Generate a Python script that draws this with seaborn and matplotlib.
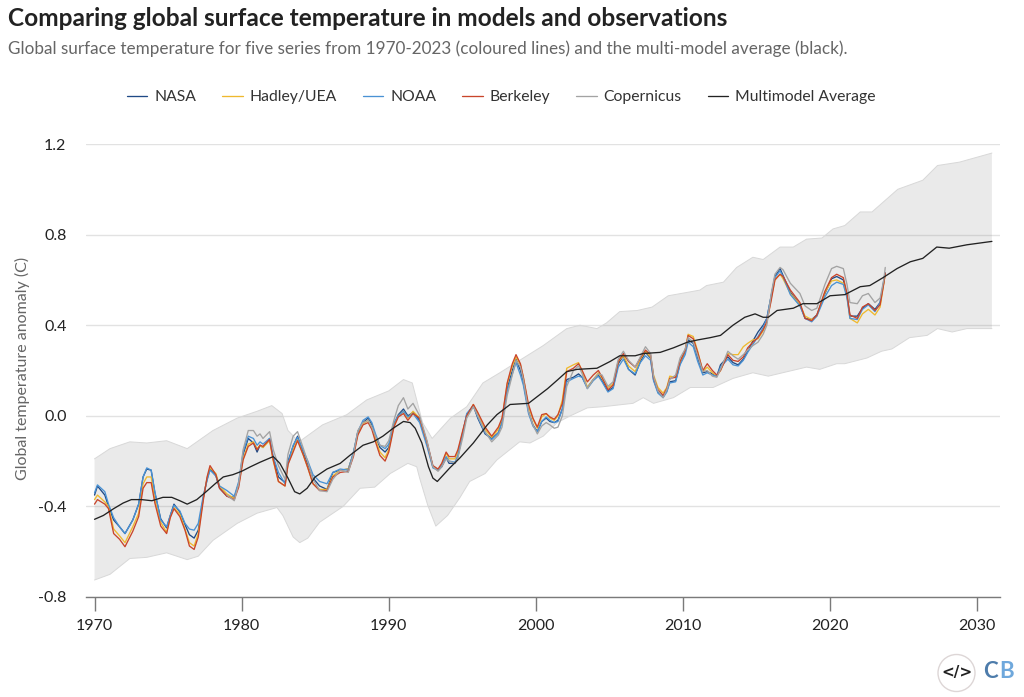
import pandas as pd
import matplotlib
matplotlib.use('Agg')
import matplotlib.pyplot as plt
from matplotlib.patches import Ellipse
import seaborn as sns

obs_years = [1970.0, 1970.2, 1970.7, 1970.95, 1971.3, 1971.7, 1972.07, 1972.6, 1973.0, 1973.3, 1973.55, 1973.85,
             1974.1, 1974.5, 1974.9, 1975.15, 1975.4, 1975.8, 1976.15, 1976.45, 1976.77, 1977.05, 1977.4, 1977.65,
             1977.85, 1978.25, 1978.5, 1979.0, 1979.5, 1979.8, 1980.1, 1980.45, 1980.8, 1981.05, 1981.25, 1981.45,
             1981.9, 1982.15, 1982.5, 1982.95, 1983.15, 1983.5, 1983.8, 1984.2, 1984.5, 1984.85, 1985.3, 1985.8,
             1986.2, 1986.7, 1987.25, 1987.6, 1987.9, 1988.25, 1988.6, 1988.85, 1989.1, 1989.4, 1989.75, 1990.0,
             1990.35, 1990.65, 1991.0, 1991.3, 1991.65, 1992.1, 1992.6, 1993.0, 1993.35, 1993.6, 1993.9, 1994.1,
             1994.5, 1994.7, 1995.05, 1995.3, 1995.75, 1996.05, 1996.55, 1997.0, 1997.45, 1997.7, 1998.05, 1998.4,
             1998.65, 1998.95, 1999.15, 1999.5, 1999.8, 2000.1, 2000.4, 2000.7, 2000.95, 2001.25, 2001.5, 2001.8,
             2002.1, 2002.55, 2002.9, 2003.15, 2003.5, 2003.9, 2004.25, 2004.5, 2004.9, 2005.25, 2005.6, 2005.95,
             2006.3, 2006.75, 2007.1, 2007.45, 2007.8, 2008.0, 2008.3, 2008.65, 2008.9, 2009.1, 2009.5, 2009.8,
             2010.15, 2010.35, 2010.7, 2011.0, 2011.35, 2011.65, 2012.0, 2012.3, 2012.55, 2013.05, 2013.4, 2013.75,
             2014.1, 2014.4, 2014.75, 2015.1, 2015.45, 2015.7, 2016.0, 2016.25, 2016.6, 2016.8, 2017.3, 2017.95,
             2018.3, 2018.75, 2019.1, 2019.65, 2020.1, 2020.45, 2020.9, 2021.15, 2021.35, 2021.85, 2022.2, 2022.6,
             2023.05, 2023.4, 2023.65, 2023.75]

berkeley = [-0.39, -0.37, -0.39, -0.41, -0.52, -0.545, -0.578, -0.51, -0.445, -0.32, -0.295, -0.295,
            -0.385, -0.487, -0.52, -0.45, -0.41, -0.445, -0.505, -0.575, -0.59, -0.535, -0.37, -0.27,
            -0.22, -0.26, -0.32, -0.355, -0.37, -0.315, -0.195, -0.135, -0.12, -0.15, -0.13, -0.135,
            -0.105, -0.195, -0.29, -0.31, -0.215, -0.16, -0.11, -0.175, -0.23, -0.30, -0.33, -0.33,
            -0.27, -0.25, -0.245, -0.18, -0.085, -0.04, -0.03, -0.06, -0.115, -0.175, -0.20, -0.16,
            -0.05, -0.005, 0.01, -0.02, 0.01, -0.01, -0.115, -0.22, -0.235, -0.21, -0.16, -0.18,
            -0.18, -0.15, -0.06, 0.0, 0.05, 0.015, -0.05, -0.09, -0.05, -0.01, 0.145, 0.23,
            0.27, 0.23, 0.17, 0.05, -0.01, -0.05, 0.005, 0.01, -0.005, -0.015, 0.005, 0.055,
            0.195, 0.21, 0.23, 0.20, 0.15, 0.18, 0.20, 0.17, 0.115, 0.135, 0.24, 0.275,
            0.24, 0.215, 0.255, 0.29, 0.27, 0.17, 0.115, 0.09, 0.12, 0.165, 0.17, 0.24,
            0.29, 0.355, 0.34, 0.28, 0.20, 0.23, 0.20, 0.18, 0.20, 0.27, 0.245, 0.24,
            0.26, 0.30, 0.325, 0.345, 0.38, 0.415, 0.51, 0.60, 0.625, 0.615, 0.555, 0.50,
            0.43, 0.42, 0.445, 0.55, 0.61, 0.625, 0.61, 0.54, 0.445, 0.43, 0.48, 0.495,
            0.465, 0.49, 0.585, 0.63]

noaa = [-0.34, -0.305, -0.335, -0.39, -0.45, -0.49, -0.52, -0.46, -0.39, -0.27, -0.23, -0.24,
        -0.335, -0.46, -0.49, -0.44, -0.395, -0.42, -0.475, -0.50, -0.505, -0.475, -0.35, -0.285,
        -0.24, -0.265, -0.31, -0.33, -0.355, -0.29, -0.16, -0.09, -0.10, -0.13, -0.115, -0.125,
        -0.10, -0.18, -0.25, -0.30, -0.21, -0.13, -0.095, -0.155, -0.20, -0.26, -0.29, -0.30,
        -0.25, -0.235, -0.24, -0.16, -0.07, -0.02, -0.005, -0.03, -0.08, -0.13, -0.145, -0.125,
        -0.03, 0.0, 0.02, -0.005, 0.01, -0.03, -0.135, -0.23, -0.24, -0.22, -0.18, -0.20,
        -0.205, -0.175, -0.07, 0.01, 0.045, -0.005, -0.075, -0.105, -0.075, -0.03, 0.11, 0.185,
        0.235, 0.18, 0.135, 0.01, -0.045, -0.07, -0.025, -0.005, -0.02, -0.03, -0.025, 0.03,
        0.15, 0.165, 0.175, 0.17, 0.12, 0.155, 0.175, 0.15, 0.105, 0.12, 0.215, 0.25,
        0.205, 0.185, 0.235, 0.265, 0.245, 0.155, 0.10, 0.08, 0.105, 0.145, 0.15, 0.225,
        0.27, 0.325, 0.305, 0.24, 0.18, 0.19, 0.18, 0.175, 0.215, 0.25, 0.225, 0.22,
        0.245, 0.28, 0.315, 0.35, 0.39, 0.43, 0.53, 0.61, 0.64, 0.615, 0.535, 0.485,
        0.43, 0.415, 0.44, 0.525, 0.575, 0.59, 0.58, 0.52, 0.43, 0.425, 0.47, 0.49,
        0.46, 0.50, 0.60, 0.63]

nasa = [-0.35, -0.31, -0.35, -0.40, -0.46, -0.49, -0.52, -0.46, -0.39, -0.27, -0.235, -0.24,
        -0.34, -0.455, -0.495, -0.44, -0.39, -0.425, -0.48, -0.525, -0.54, -0.505, -0.36, -0.28,
        -0.235, -0.265, -0.32, -0.355, -0.36, -0.30, -0.17, -0.10, -0.12, -0.16, -0.13, -0.14,
        -0.10, -0.19, -0.27, -0.295, -0.20, -0.135, -0.09, -0.165, -0.215, -0.275, -0.31, -0.325,
        -0.25, -0.24, -0.235, -0.165, -0.07, -0.03, -0.01, -0.04, -0.09, -0.14, -0.16, -0.14,
        -0.04, 0.005, 0.03, 0.0, 0.015, -0.02, -0.12, -0.225, -0.24, -0.225, -0.185, -0.21,
        -0.21, -0.18, -0.07, 0.005, 0.045, -0.01, -0.08, -0.10, -0.075, -0.025, 0.12, 0.20,
        0.25, 0.20, 0.15, 0.02, -0.04, -0.07, -0.025, -0.01, -0.025, -0.03, -0.02, 0.03,
        0.16, 0.17, 0.185, 0.17, 0.125, 0.16, 0.18, 0.155, 0.11, 0.125, 0.23, 0.265,
        0.205, 0.18, 0.24, 0.28, 0.255, 0.16, 0.105, 0.085, 0.11, 0.15, 0.155, 0.23,
        0.285, 0.335, 0.32, 0.255, 0.19, 0.195, 0.185, 0.175, 0.225, 0.26, 0.235, 0.225,
        0.25, 0.285, 0.33, 0.37, 0.40, 0.43, 0.53, 0.615, 0.65, 0.62, 0.545, 0.49,
        0.43, 0.425, 0.445, 0.54, 0.605, 0.615, 0.60, 0.53, 0.44, 0.44, 0.475, 0.495,
        0.47, 0.50, 0.59, 0.63]

hadley = [-0.37, -0.35, -0.38, -0.40, -0.50, -0.53, -0.56, -0.49, -0.43, -0.30, -0.27, -0.27,
          -0.37, -0.47, -0.515, -0.445, -0.405, -0.435, -0.50, -0.56, -0.575, -0.52, -0.36, -0.275,
          -0.23, -0.255, -0.31, -0.345, -0.365, -0.305, -0.19, -0.125, -0.115, -0.145, -0.13, -0.14,
          -0.11, -0.20, -0.29, -0.31, -0.215, -0.15, -0.105, -0.175, -0.23, -0.30, -0.325, -0.325,
          -0.265, -0.24, -0.235, -0.17, -0.08, -0.035, -0.02, -0.05, -0.105, -0.16, -0.185, -0.15,
          -0.045, 0.0, 0.02, -0.01, 0.02, -0.01, -0.125, -0.225, -0.24, -0.215, -0.165, -0.19,
          -0.19, -0.16, -0.065, -0.005, 0.05, 0.01, -0.06, -0.095, -0.06, -0.015, 0.14, 0.22,
          0.26, 0.225, 0.17, 0.04, -0.015, -0.055, -0.005, 0.01, -0.01, -0.02, 0.0, 0.07,
          0.21, 0.225, 0.235, 0.195, 0.125, 0.16, 0.19, 0.165, 0.125, 0.14, 0.24, 0.265,
          0.22, 0.195, 0.25, 0.285, 0.26, 0.18, 0.125, 0.10, 0.125, 0.175, 0.17, 0.235,
          0.29, 0.36, 0.35, 0.285, 0.195, 0.215, 0.19, 0.175, 0.20, 0.275, 0.27, 0.27,
          0.305, 0.32, 0.335, 0.34, 0.375, 0.41, 0.52, 0.60, 0.625, 0.605, 0.54, 0.49,
          0.44, 0.425, 0.44, 0.545, 0.595, 0.60, 0.585, 0.53, 0.43, 0.41, 0.45, 0.47,
          0.445, 0.48, 0.585, 0.625]

# ERA5 only starts in 1979, so this one lines up with the end of obs_years
copernicus = [-0.35, -0.375, -0.30, -0.15, -0.065, -0.065, -0.09, -0.08, -0.10,
              -0.07, -0.15, -0.22, -0.28, -0.17, -0.09, -0.07, -0.145, -0.205, -0.28, -0.33, -0.335,
              -0.28, -0.24, -0.25, -0.17, -0.065, -0.03, -0.02, -0.05, -0.09, -0.13, -0.135, -0.11,
              -0.02, 0.045, 0.08, 0.03, 0.055, 0.0, -0.11, -0.225, -0.245, -0.225, -0.19, -0.20,
              -0.21, -0.185, -0.09, -0.01, 0.04, 0.0, -0.07, -0.115, -0.085, -0.05, 0.09, 0.18,
              0.245, 0.215, 0.16, 0.02, -0.04, -0.08, -0.045, -0.03, -0.04, -0.055, -0.05, 0.0,
              0.13, 0.20, 0.22, 0.185, 0.12, 0.16, 0.185, 0.18, 0.13, 0.15, 0.25, 0.285,
              0.245, 0.215, 0.26, 0.305, 0.275, 0.175, 0.11, 0.08, 0.115, 0.16, 0.18, 0.255,
              0.295, 0.345, 0.325, 0.265, 0.195, 0.20, 0.175, 0.17, 0.205, 0.285, 0.265, 0.25,
              0.27, 0.29, 0.31, 0.325, 0.36, 0.40, 0.54, 0.625, 0.655, 0.645, 0.585, 0.54,
              0.485, 0.465, 0.475, 0.58, 0.65, 0.66, 0.65, 0.58, 0.50, 0.495, 0.53, 0.54,
              0.50, 0.52, 0.60, 0.655]

model_years = [1970.0, 1970.6, 1971.3, 1971.95, 1972.5, 1973.2, 1973.9, 1974.65, 1975.25, 1975.8, 1976.3, 1976.95,
               1977.5, 1978.2, 1978.75, 1979.4, 1980.0, 1980.6, 1981.25, 1982.15, 1982.6, 1983.15, 1983.6, 1983.95,
               1984.45, 1985.0, 1985.8, 1986.7, 1987.35, 1988.25, 1988.95, 1989.6, 1990.3, 1991.0, 1991.45, 1991.8,
               1992.25, 1992.7, 1993.0, 1993.3, 1994.15, 1994.85, 1995.75, 1996.7, 1997.35, 1998.25, 1999.5, 2000.1,
               2000.8, 2001.5, 2002.1, 2002.8, 2004.15, 2005.05, 2005.7, 2006.75, 2007.3, 2008.45, 2009.35, 2010.3,
               2011.0, 2011.85, 2012.55, 2013.4, 2014.2, 2014.9, 2015.45, 2015.8, 2016.4, 2017.5, 2018.15, 2019.1,
               2020.0, 2021.0, 2022.05, 2022.7, 2023.6, 2024.55, 2025.45, 2026.3, 2027.25, 2028.1, 2029.3, 2031.0]
model_mean = [-0.457, -0.44, -0.41, -0.385, -0.37, -0.37, -0.375, -0.36, -0.36, -0.375, -0.39, -0.37,
              -0.34, -0.30, -0.27, -0.26, -0.245, -0.225, -0.205, -0.18, -0.21, -0.275, -0.335, -0.345,
              -0.32, -0.27, -0.235, -0.21, -0.175, -0.13, -0.115, -0.09, -0.055, -0.025, -0.03, -0.055,
              -0.12, -0.225, -0.275, -0.29, -0.23, -0.185, -0.12, -0.04, 0.005, 0.05, 0.055, 0.085,
              0.12, 0.16, 0.195, 0.205, 0.21, 0.24, 0.265, 0.265, 0.275, 0.28, 0.30, 0.325,
              0.335, 0.345, 0.355, 0.40, 0.435, 0.45, 0.435, 0.435, 0.465, 0.475, 0.495, 0.495,
              0.53, 0.535, 0.57, 0.575, 0.61, 0.65, 0.68, 0.695, 0.745, 0.74, 0.755, 0.77]

upper_years = [1970.0, 1971.05, 1972.4, 1973.55, 1974.9, 1976.3, 1978.05, 1979.7, 1981.05, 1982.05, 1982.75, 1983.15,
               1983.9, 1985.5, 1987.15, 1988.5, 1990.0, 1991.0, 1991.6, 1992.3, 1992.95, 1993.5, 1994.2, 1995.3,
               1996.4, 1997.55, 1998.9, 2000.5, 2002.1, 2003.0, 2004.15, 2004.8, 2005.7, 2006.9, 2007.9, 2009.0,
               2010.3, 2011.15, 2011.6, 2012.75, 2013.65, 2014.75, 2015.45, 2016.6, 2017.5, 2018.4, 2019.45, 2020.2,
               2021.0, 2022.05, 2022.85, 2024.6, 2026.3, 2027.3, 2028.8, 2031.0]
upper_band = [-0.19, -0.145, -0.115, -0.12, -0.11, -0.145, -0.065, -0.01, 0.02, 0.045, 0.01, -0.065,
              -0.115, -0.04, 0.005, 0.07, 0.11, 0.16, 0.145, -0.03, -0.10, -0.06, -0.01, 0.04,
              0.145, 0.19, 0.245, 0.31, 0.385, 0.40, 0.385, 0.41, 0.46, 0.465, 0.48, 0.53,
              0.545, 0.555, 0.575, 0.59, 0.655, 0.70, 0.69, 0.745, 0.745, 0.78, 0.785, 0.825,
              0.84, 0.90, 0.90, 1.00, 1.04, 1.105, 1.12, 1.16]

lower_years = [1970.0, 1971.05, 1972.4, 1973.55, 1974.9, 1976.3, 1977.05, 1978.05, 1979.7, 1981.05, 1982.4, 1982.8,
               1983.5, 1983.95, 1984.5, 1985.3, 1986.9, 1988.05, 1989.05, 1990.1, 1991.3, 1991.9, 1992.1, 1992.65,
               1993.2, 1994.0, 1994.85, 1995.5, 1996.55, 1997.35, 1998.9, 1999.6, 2000.5, 2001.45, 2002.35, 2003.5,
               2004.55, 2006.6, 2007.3, 2008.0, 2009.35, 2010.5, 2012.05, 2013.4, 2014.75, 2015.8, 2018.4, 2019.3,
               2020.45, 2021.0, 2022.5, 2023.5, 2024.2, 2025.4, 2026.6, 2027.3, 2028.3, 2029.3, 2031.0]
lower_band = [-0.725, -0.70, -0.63, -0.625, -0.605, -0.635, -0.62, -0.55, -0.475, -0.43, -0.405, -0.44,
              -0.535, -0.56, -0.54, -0.47, -0.40, -0.32, -0.315, -0.255, -0.21, -0.225, -0.275, -0.395,
              -0.487, -0.44, -0.36, -0.29, -0.255, -0.195, -0.115, -0.12, -0.09, -0.03, 0.0, 0.035,
              0.04, 0.055, 0.08, 0.055, 0.08, 0.125, 0.125, 0.165, 0.19, 0.175, 0.215, 0.205,
              0.23, 0.23, 0.255, 0.285, 0.295, 0.345, 0.355, 0.385, 0.37, 0.385, 0.385]

series_names = ['NASA', 'Hadley/UEA', 'NOAA', 'Berkeley', 'Copernicus', 'Multimodel Average']
colours = ['#1f4a86', '#efb92e', '#4a92d4', '#c9452b', '#a3a3a3', '#222222']
xtick_years = [1970, 1980, 1990, 2000, 2010, 2020, 2030]
ytick_vals = [-0.8, -0.4, 0.0, 0.4, 0.8, 1.2]

frames = []
for name, yrs, vals in [('NASA', obs_years, nasa), ('Hadley/UEA', obs_years, hadley), ('NOAA', obs_years, noaa),
                        ('Berkeley', obs_years, berkeley), ('Copernicus', obs_years[-len(copernicus):], copernicus),
                        ('Multimodel Average', model_years, model_mean)]:
    frames.append(pd.DataFrame({'year': yrs, 'anomaly': vals, 'series': name}))
df = pd.concat(frames, ignore_index=True)

sns.set_theme(style='white')
plt.rcParams['font.family'] = ['Lato', 'DejaVu Sans']

fig = plt.figure(figsize=(10.24, 6.97), dpi=100)
ax = fig.add_axes([86 / 1024, 1 - 597 / 697, 914 / 1024, 453 / 697])

band_x = upper_years + lower_years[::-1]
band_y = upper_band + lower_band[::-1]
ax.fill(band_x, band_y, facecolor='#808080', alpha=0.16, edgecolor='none', zorder=1.5)
ax.plot(upper_years, upper_band, color='#d8d8d8', lw=0.7, zorder=1.6)
ax.plot(lower_years, lower_band, color='#d8d8d8', lw=0.7, zorder=1.6)

sns.lineplot(data=df, x='year', y='anomaly', hue='series', hue_order=series_names,
             palette=dict(zip(series_names, colours)), estimator=None, sort=False,
             linewidth=0.95, ax=ax, zorder=3)

ax.set_xlim(1969.42, 2031.55)
ax.set_ylim(-0.8, 1.2)
ax.set_xticks(xtick_years)
ax.set_yticks(ytick_vals)
ax.set_yticklabels(['-0.8', '-0.4', '0.0', '0.4', '0.8', '1.2'])
ax.set_xlabel('')
ax.set_ylabel('Global temperature anomaly (C)', fontsize=11.5, color='#666666')
ax.yaxis.set_label_coords(-56 / 914, 0.505)

ax.grid(axis='y', color='#e2e2e2', lw=1.0, zorder=0)
ax.set_axisbelow(True)
for side in ['top', 'left', 'right']:
    ax.spines[side].set_visible(False)
ax.spines['bottom'].set_color('#7a7a7a')
ax.spines['bottom'].set_linewidth(1.0)
ax.tick_params(axis='x', length=10, width=1.0, color='#7a7a7a', labelsize=11.5, labelcolor='#222222', pad=6, bottom=True)
ax.tick_params(axis='y', length=0, labelsize=11.5, labelcolor='#222222', pad=14)

sns.move_legend(ax, 'center left', bbox_to_anchor=(41 / 914, 1 + 47 / 453), ncol=6, frameon=False, title=None,
                fontsize=11.3, handlelength=1.3, handletextpad=0.45, columnspacing=1.65, borderpad=0, borderaxespad=0)
for text in ax.get_legend().get_texts():
    text.set_color('#333333')

fig.text(8 / 1024, 1 - 18 / 697, 'Comparing global surface temperature in models and observations',
         fontsize=17.6, fontweight='bold', color='#222222', va='center')
fig.text(8 / 1024, 1 - 49 / 697, 'Global surface temperature for five series from 1970-2023 (coloured lines) and the multi-model average (black).',
         fontsize=12.35, color='#666666', va='center')

# Carbon Brief badge, bottom right
fig.add_artist(Ellipse((956.5 / 1024, 1 - 673 / 697), 37 / 1024, 37 / 697, transform=fig.transFigure,
                       facecolor='white', edgecolor='#ddd6d6', lw=1.0))
fig.text(956.5 / 1024, 1 - 673 / 697, '</>', fontsize=11, fontweight='bold', color='#222222', ha='center', va='center',
         family='DejaVu Sans')
fig.text(998 / 1024, 1 - 672 / 697, 'C', fontsize=16, fontweight='bold', color='#4d7cab', ha='right', va='center')
fig.text(999 / 1024, 1 - 672 / 697, 'B', fontsize=16, fontweight='bold', color='#6fa8dc', ha='left', va='center')

fig.savefig('out.png', dpi=100)
